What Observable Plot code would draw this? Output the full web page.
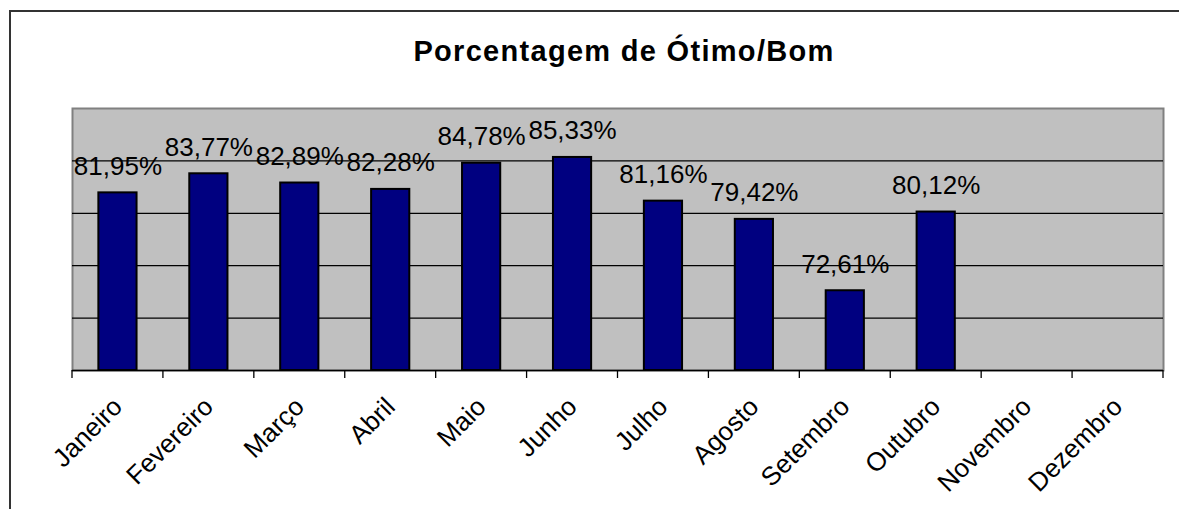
<!DOCTYPE html>
<html>
<head>
<meta charset="utf-8">
<script src="https://cdn.jsdelivr.net/npm/d3@7"></script>
<script src="https://cdn.jsdelivr.net/npm/@observablehq/plot@0.6"></script>
<style>
  html, body { margin: 0; padding: 0; background: #fff; overflow: hidden; }
  #wrap { position: relative; width: 1179px; height: 509px; overflow: hidden; font-family: "Liberation Sans", Arial, sans-serif; }
  #frame { position: absolute; left: 9px; top: 10px; width: 1200px; height: 520px; border-left: 2px solid #333; border-top: 2px solid #333; box-sizing: border-box; }
  #title { position: absolute; left: 0; width: 1248px; top: 35px; text-align: center; font-size: 29px; letter-spacing: 1.3px; font-weight: bold; color: #000; line-height: 32px; }
  #chart { position: absolute; left: 0; top: 0; }
</style>
</head>
<body>
<div id="wrap">
  <div id="frame"></div>
  <div id="title">Porcentagem de Ótimo/Bom</div>
  <div id="chart"></div>
</div>
<script>
const months = ["Janeiro", "Fevereiro", "Março", "Abril", "Maio", "Junho", "Julho", "Agosto", "Setembro", "Outubro", "Novembro", "Dezembro"];
const valueMonths = ["Janeiro", "Fevereiro", "Março", "Abril", "Maio", "Junho", "Julho", "Agosto", "Setembro", "Outubro"];
const values = [81.95, 83.77, 82.89, 82.28, 84.78, 85.33, 81.16, 79.42, 72.61, 80.12];
const yDomain = [65, 90];
const gridTicks = [70, 75, 80, 85];

const data = valueMonths.map((m, i) => ({month: m, value: values[i]}));
const fmt = v => v.toFixed(2).replace(".", ",") + "%";

const padInner = 0.58;

function boundaryTicks(index, scales, values, dimensions) {
  const x = scales.x, y = scales.y;
  const step = x(months[1]) - x(months[0]);
  const y0 = y(yDomain[0]);
  const g = d3.create("svg:g");
  const xs = months.map(m => x(m) - step * padInner / 2);
  xs.push(x(months[months.length - 1]) - step * padInner / 2 + step);
  g.selectAll("line").data(xs).join("line")
    .attr("x1", d => d).attr("x2", d => d)
    .attr("y1", y0).attr("y2", y0 + 8)
    .attr("stroke", "#000").attr("stroke-width", 1.3);
  return g.node();
}

const chart = Plot.plot({
  width: 1179,
  height: 509,
  marginTop: 108,
  marginLeft: 72,
  marginRight: 16,
  marginBottom: 139,
  style: {background: "transparent", fontFamily: "'Liberation Sans', Arial, sans-serif", fontSize: "26px", color: "#000"},
  x: {domain: months, paddingInner: padInner, paddingOuter: padInner / 2, round: false, axis: null},
  y: {domain: yDomain, axis: null},
  marks: [
    Plot.frame({fill: "#C0C0C0", stroke: "#808080", strokeWidth: 2}),
    Plot.ruleY(gridTicks, {stroke: "#000", strokeWidth: 1.2}),
    Plot.barY(data, {x: "month", y1: yDomain[0], y2: "value", fill: "#000080", stroke: "#000", strokeWidth: 2}),
    Plot.ruleY([yDomain[0]], {stroke: "#000", strokeWidth: 1.5}),
    boundaryTicks,
    Plot.axisX({tickRotate: -45, tickSize: 0, tickPadding: 32, fontSize: 26, label: null, fill: "#000"}),
    Plot.text(data, {x: "month", y: "value", text: d => fmt(d.value), dy: -18, lineAnchor: "bottom", fontSize: 26, fill: "#000"})
  ]
});
document.getElementById("chart").appendChild(chart);
</script>
</body>
</html>
